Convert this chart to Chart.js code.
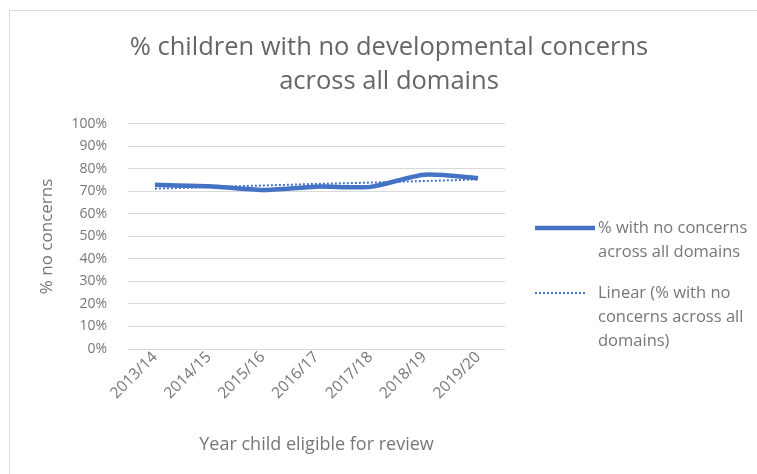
<!DOCTYPE html>
<html>
<head>
<meta charset="utf-8">
<script src="https://cdn.jsdelivr.net/npm/chart.js@4.4.1/dist/chart.umd.min.js"></script>
<style>
  html, body { margin: 0; padding: 0; background: #fff; }
  #wrap { position: relative; width: 757px; height: 474px; overflow: hidden; }
  #frame { position: absolute; left: 9px; top: 10px; width: 800px; height: 500px; border: 1px solid #dcdcdc; }
  #chart { position: absolute; left: 0; top: 0; }
</style>
</head>
<body>
<div id="wrap">
  <div id="frame"></div>
  <canvas id="chart" width="757" height="474"></canvas>
</div>
<script>
// DATA
const years = ["2013/14", "2014/15", "2015/16", "2016/17", "2017/18", "2018/19", "2019/20"];
const noConcerns = [72.9, 72.3, 70.6, 72.1, 72.0, 77.4, 75.9];
const linearTrend = [71.2, 71.9, 72.6, 73.3, 73.9, 74.6, 75.3];
const titleLines = ["% children with no developmental concerns", "across all domains"];
const legendLines = [
  ["% with no concerns", "across all domains"],
  ["Linear (% with no", "concerns across all", "domains)"]
];

const FONT = "'Open Sans', sans-serif";
const BLUE = "#4472C4";

// legend on the right, drawn with the dataset styles
const sideLegend = {
  id: "sideLegend",
  afterDraw(chart) {
    const ctx = chart.ctx;
    const lineX0 = 535, lineX1 = 595, textX = 598;
    const tops = [228, 293];
    const lh = 24;
    ctx.save();
    ctx.font = "16.5px " + FONT;
    ctx.fillStyle = "#777";
    ctx.textBaseline = "middle";
    chart.data.datasets.forEach((ds, i) => {
      const y = tops[i];
      ctx.beginPath();
      ctx.strokeStyle = ds.borderColor;
      ctx.lineWidth = ds.borderWidth;
      ctx.setLineDash(ds.borderDash || []);
      ctx.moveTo(lineX0, y);
      ctx.lineTo(i === 0 ? lineX1 : lineX1 - 8, y);
      ctx.stroke();
      ctx.setLineDash([]);
      legendLines[i].forEach((t, j) => {
        ctx.fillText(t, textX, y + j * lh);
      });
    });
    ctx.restore();
  }
};

new Chart(document.getElementById("chart"), {
  type: "line",
  data: {
    labels: years,
    datasets: [
      {
        label: "% with no concerns across all domains",
        data: noConcerns,
        borderColor: BLUE,
        borderWidth: 4.5,
        pointRadius: 0,
        tension: 0.25,
        order: 1
      },
      {
        label: "Linear (% with no concerns across all domains)",
        data: linearTrend,
        borderColor: BLUE,
        borderWidth: 2,
        borderDash: [2, 2],
        pointRadius: 0,
        order: 0
      }
    ]
  },
  options: {
    responsive: false,
    animation: false,
    layout: { padding: { left: 21, top: 0, bottom: 14 } },
    plugins: {
      legend: { display: false },
      tooltip: { enabled: false },
      title: {
        display: true,
        text: titleLines,
        color: "#666",
        font: { family: FONT, size: 25.5, weight: "normal", lineHeight: 1.33 },
        padding: { top: 31, bottom: 25 }
      }
    },
    scales: {
      x: {
        offset: true,
        grid: { display: false },
        border: { display: false },
        ticks: {
          color: "#777",
          font: { family: FONT, size: 15.5 },
          maxRotation: 45,
          minRotation: 45,
          padding: -9
        },
        title: {
          display: true,
          text: "Year child eligible for review",
          color: "#777",
          font: { family: FONT, size: 18 },
          padding: { top: 19, bottom: 4 }
        },
        // rotated first label may hang into the y-axis area, like the original
        afterFit: s => { s.paddingLeft = 0; s.height = 111; }
      },
      y: {
        min: 0,
        max: 100,
        grid: { color: "#d9d9d9", drawTicks: false },
        border: { display: false },
        ticks: {
          stepSize: 10,
          color: "#777",
          font: { family: FONT, size: 14 },
          padding: 21,
          callback: v => v + "%"
        },
        title: {
          display: true,
          text: "% no concerns",
          color: "#777",
          font: { family: FONT, size: 17 },
          padding: { top: 16, bottom: 13 }
        },
        afterFit: s => { s.width = 107; }
      },
      side: {
        position: "right",
        grid: { display: false },
        border: { display: false },
        ticks: { display: false },
        afterFit: s => { s.width = 252; }
      }
    }
  },
  plugins: [sideLegend]
});
</script>
</body>
</html>
